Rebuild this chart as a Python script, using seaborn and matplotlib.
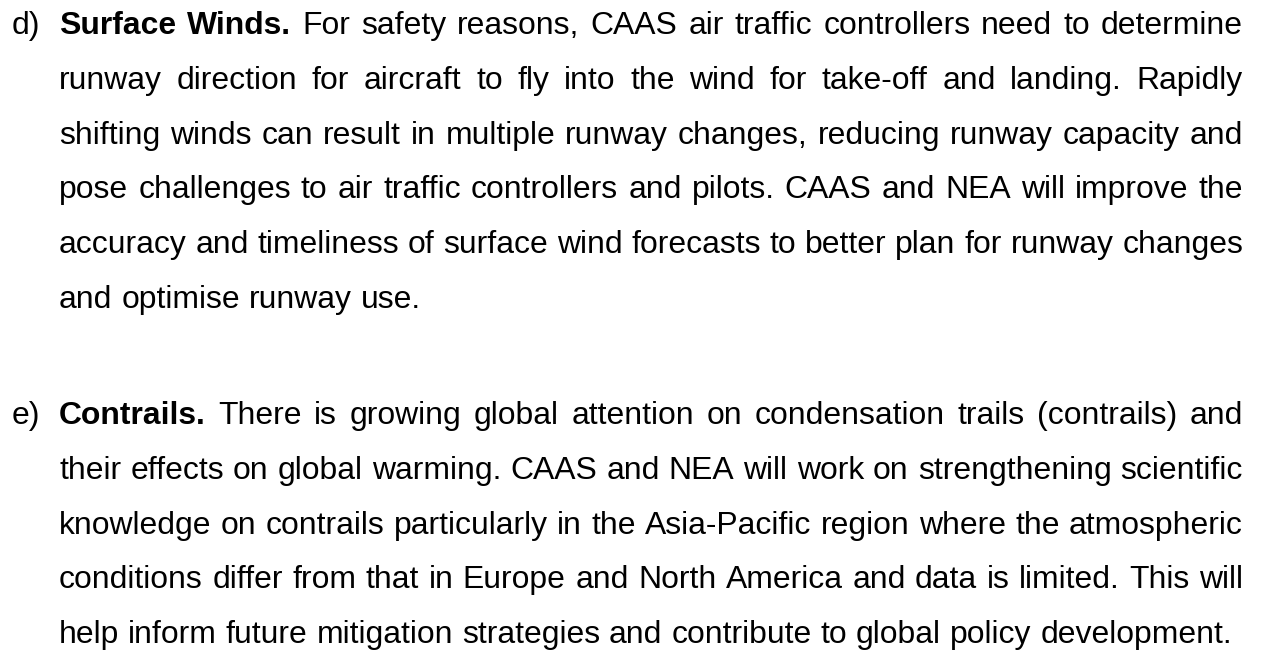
import matplotlib
matplotlib.use("Agg")
import matplotlib.pyplot as plt
import seaborn as sns

# 段落内容
labels = ["d)", "e)"]
heads = ["Surface Winds.", "Contrails."]
lines_d = [
    "For safety reasons, CAAS air traffic controllers need to determine",
    "runway direction for aircraft to fly into the wind for take-off and landing. Rapidly",
    "shifting winds can result in multiple runway changes, reducing runway capacity and",
    "pose challenges to air traffic controllers and pilots. CAAS and NEA will improve the",
    "accuracy and timeliness of surface wind forecasts to better plan for runway changes",
    "and optimise runway use.",
]
lines_e = [
    "There is growing global attention on condensation trails (contrails) and",
    "their effects on global warming. CAAS and NEA will work on strengthening scientific",
    "knowledge on contrails particularly in the Asia-Pacific region where the atmospheric",
    "conditions differ from that in Europe and North America and data is limited. This will",
    "help inform future mitigation strategies and contribute to global policy development.",
]
paragraphs = [lines_d, lines_e]

sns.set_theme(style="white")
plt.rcParams['font.family'] = ['Liberation Sans', 'DejaVu Sans']

fig = plt.figure(figsize=(12.63, 6.5), dpi=100)
ax = fig.add_axes([0, 0, 1, 1])
ax.set_xlim(0, 1263)
ax.set_ylim(650, 0)
ax.set_axis_off()
renderer = fig.canvas.get_renderer()


def text_width(s, size, weight="normal"):
    t = ax.text(0, 0, s, fontsize=size, fontweight=weight)
    w = t.get_window_extent(renderer).width
    t.remove()
    return w


label_x, left, right = 12, 59, 1243
first_baselines = [34, 424]
pitch = 54.8

# 字号按最后一行的自然宽度校准
fs = 20 * (1229 - left) / text_width(lines_e[-1], 20)
space = text_width("a a", fs) - text_width("aa", fs)

for label, head, lines, y0 in zip(labels, heads, paragraphs, first_baselines):
    ax.text(label_x, y0, label, fontsize=fs, va="baseline", color="black")
    for i, line in enumerate(lines):
        words = [(w, "normal") for w in line.split()]
        if i == 0:
            words = [(w, "bold") for w in head.split()] + words
        widths = [text_width(w, fs, wt) for w, wt in words]
        if i == len(lines) - 1:
            gap = space
        else:
            gap = (right - left - sum(widths)) / (len(words) - 1)
        x = left
        y = y0 + i * pitch
        for (w, wt), wd in zip(words, widths):
            ax.text(x, y, w, fontsize=fs, fontweight=wt, va="baseline", color="black")
            x += wd + gap

fig.savefig("out.png", dpi=100, facecolor="white")
